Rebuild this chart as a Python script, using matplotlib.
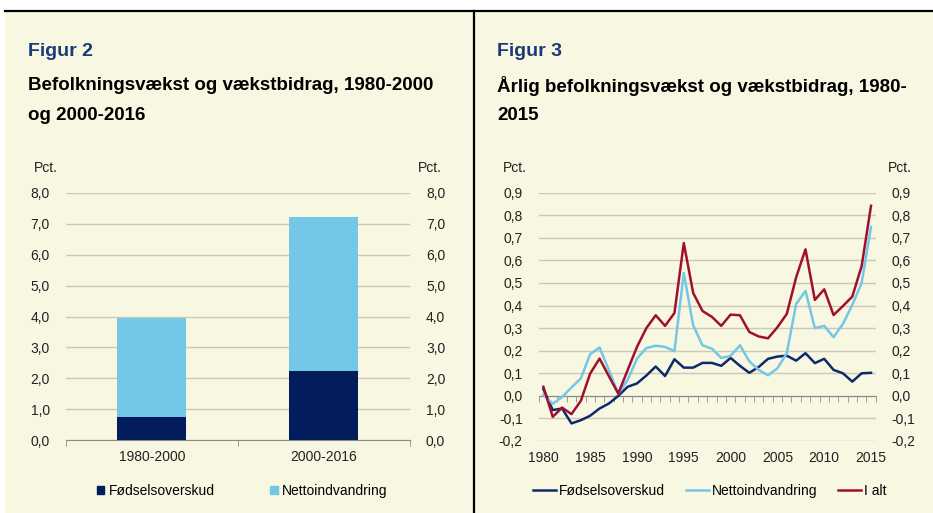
import numpy as np
import matplotlib
matplotlib.use("Agg")
import matplotlib.pyplot as plt
from matplotlib.patches import Rectangle, Patch
from matplotlib.lines import Line2D
from matplotlib.ticker import FuncFormatter

plt.rcParams['font.family'] = ['Liberation Sans', 'DejaVu Sans']

# Figur 2 data
periods = ['1980-2000', '2000-2016']
fods_period = [0.76, 2.24]
netto_period = [3.19, 4.96]

# Figur 3 data
years = list(range(1980, 2016))
fods = [0.03, -0.063, -0.056, -0.122, -0.108, -0.088, -0.056, -0.034, 0.0, 0.04,
        0.055, 0.09, 0.13, 0.088, 0.162, 0.125, 0.125, 0.146, 0.146, 0.133,
        0.168, 0.133, 0.102, 0.128, 0.164, 0.174, 0.178, 0.156, 0.189, 0.145,
        0.164, 0.115, 0.1, 0.063, 0.1, 0.102]
netto = [0.005, -0.035, -0.005, 0.037, 0.077, 0.185, 0.214, 0.114, 0.01, 0.07,
         0.165, 0.212, 0.222, 0.217, 0.198, 0.544, 0.313, 0.224, 0.209, 0.168,
         0.177, 0.224, 0.153, 0.115, 0.091, 0.122, 0.189, 0.407, 0.465, 0.3,
         0.31, 0.26, 0.319, 0.403, 0.5, 0.749]
i_alt = [0.04, -0.093, -0.052, -0.081, -0.022, 0.099, 0.165, 0.087, 0.01, 0.114,
         0.217, 0.3, 0.357, 0.31, 0.367, 0.677, 0.456, 0.376, 0.35, 0.31,
         0.36, 0.357, 0.283, 0.263, 0.255, 0.304, 0.363, 0.525, 0.649, 0.425,
         0.472, 0.358, 0.398, 0.44, 0.575, 0.842]

navy = '#031c5c'
light = '#74c7e6'
line_navy = '#0f2a6a'
red = '#a0102e'
cream = '#f8f7e2'
grid_c = '#cbc9ba'
axis_c = '#8a8a8a'
title_blue = '#1b3a78'
W, H = 933, 513

fig = plt.figure(figsize=(W / 100, H / 100), dpi=100, facecolor='white')


def px(x0, y0, x1, y1):
    # pixel box (top-left origin) -> figure fraction
    return [x0 / W, 1 - y1 / H, (x1 - x0) / W, (y1 - y0) / H]


# background panel and frame lines
fig.add_artist(Rectangle((5 / W, 0), 1 - 5 / W, 1 - 11 / H, transform=fig.transFigure,
                         facecolor=cream, edgecolor='none', zorder=0))
fig.add_artist(Line2D([5 / W, 1], [1 - 11 / H] * 2, transform=fig.transFigure,
                      color='black', lw=1.6))
fig.add_artist(Line2D([473.5 / W] * 2, [0, 1 - 11 / H], transform=fig.transFigure,
                      color='black', lw=1.6))

# titles
fig.text(28 / W, 1 - 52 / H, 'Figur 2', color=title_blue, fontsize=14,
         fontweight='bold', va='center')
fig.text(28 / W, 1 - 86 / H, 'Befolkningsvækst og vækstbidrag, 1980-2000',
         fontsize=13.5, fontweight='bold', va='center')
fig.text(28 / W, 1 - 116 / H, 'og 2000-2016', fontsize=13.5, fontweight='bold', va='center')
fig.text(497 / W, 1 - 52 / H, 'Figur 3', color=title_blue, fontsize=14,
         fontweight='bold', va='center')
fig.text(497 / W, 1 - 86 / H, 'Årlig befolkningsvækst og vækstbidrag, 1980-',
         fontsize=13.5, fontweight='bold', va='center')
fig.text(497 / W, 1 - 116 / H, '2015', fontsize=13.5, fontweight='bold', va='center')

comma = FuncFormatter(lambda v, _: f"{v:.1f}".replace('.', ','))

# ---- Figur 2: stacked bars ----
ax1 = fig.add_axes(px(65.7, 192.7, 410, 440.3))
ax1.set_facecolor('none')
x = np.arange(len(periods))
ax1.bar(x, fods_period, width=0.4, color=navy, label='Fødselsoverskud', zorder=3)
ax1.bar(x, netto_period, width=0.4, bottom=fods_period, color=light,
        label='Nettoindvandring', zorder=3)
ax1.set_xlim(-0.5, 1.5)
ax1.set_ylim(0, 8)
ax1.set_yticks(np.arange(0, 9, 1))
ax1.yaxis.set_major_formatter(comma)
ax1.set_xticks(x)
ax1.set_xticklabels(periods)
ax1.set_xticks([-0.5, 0.5, 1.5], minor=True)
ax1.tick_params(axis='x', which='major', length=0, pad=7, labelsize=10, colors='#222222')
ax1.tick_params(axis='x', which='minor', length=4, direction='out', color=axis_c)
ax1.tick_params(axis='y', left=False, right=False, labelleft=True, labelright=True,
                pad=8, labelsize=10, colors='#222222')
ax1.grid(axis='y', color=grid_c, lw=1, zorder=0)
for s in ['top', 'left', 'right']:
    ax1.spines[s].set_visible(False)
ax1.spines['bottom'].set_color(axis_c)
ax1.text(-0.092, 1.1, 'Pct.', transform=ax1.transAxes, fontsize=10, va='center',
         color='#222222')
ax1.text(1.023, 1.1, 'Pct.', transform=ax1.transAxes, fontsize=10, va='center',
         color='#222222')
ax1.legend(handles=[Patch(color=navy, label='Fødselsoverskud'),
                    Patch(color=light, label='Nettoindvandring')],
           ncol=2, loc='center', bbox_to_anchor=(0.512, -0.2035), frameon=False,
           fontsize=10, handlelength=0.55, handleheight=0.55, handletextpad=0.3,
           columnspacing=4.0)

# ---- Figur 3: lines ----
ax2 = fig.add_axes(px(538.7, 192.7, 875.7, 441))
ax2.set_facecolor('none')
ax2.plot(years, fods, color=line_navy, lw=1.8, label='Fødselsoverskud', zorder=3)
ax2.plot(years, netto, color=light, lw=1.8, label='Nettoindvandring', zorder=3)
ax2.plot(years, i_alt, color=red, lw=1.8, label='I alt', zorder=4)
ax2.set_xlim(1979.5, 2015.5)
ax2.set_ylim(-0.2, 0.9)
ax2.set_yticks(np.round(np.arange(-0.2, 0.91, 0.1), 1))
ax2.yaxis.set_major_formatter(comma)
ax2.tick_params(axis='y', left=False, right=False, labelleft=True, labelright=True,
                pad=8, labelsize=10, colors='#222222')
ax2.grid(axis='y', color=grid_c, lw=1, zorder=0)
for s in ['top', 'left', 'right']:
    ax2.spines[s].set_visible(False)
ax2.spines['bottom'].set_position(('data', 0))
ax2.spines['bottom'].set_color(axis_c)
ax2.set_xticks([])
ax2.set_xticks(np.arange(1979.5, 2016, 1), minor=True)
ax2.tick_params(axis='x', which='minor', length=4, direction='out', color=axis_c,
                labelbottom=False)
sec = ax2.secondary_xaxis(0.0)
sec.set_xticks(range(1980, 2016, 5))
sec.tick_params(length=0, pad=7, labelsize=10, colors='#222222')
sec.spines['bottom'].set_visible(False)
ax2.text(-0.106, 1.1, 'Pct.', transform=ax2.transAxes, fontsize=10, va='center',
         color='#222222')
ax2.text(1.037, 1.1, 'Pct.', transform=ax2.transAxes, fontsize=10, va='center',
         color='#222222')
ax2.legend(ncol=3, loc='center', bbox_to_anchor=(0.508, -0.2), frameon=False,
           fontsize=10, handlelength=1.66, handletextpad=0.2, columnspacing=1.5)

fig.savefig('out.png', dpi=100, facecolor='white')
